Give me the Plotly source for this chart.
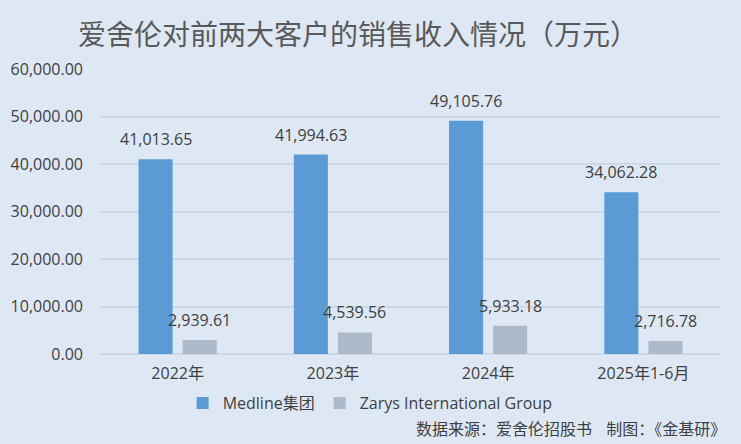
import plotly.graph_objects as go

# 数据（万元）
periods = ['2022年', '2023年', '2024年', '2025年1-6月']
medline = [41013.65, 41994.63, 49105.76, 34062.28]
zarys = [2939.61, 4539.56, 5933.18, 2716.78]
series_names = ['Medline集团', 'Zarys International Group']

TITLE = '爱舍伦对前两大客户的销售收入情况（万元）'
SOURCE = '数据来源：爱舍伦招股书\u00a0\u00a0\u00a0\u00a0制图：《金基研》'

BG = '#DEE8F4'
GRID = '#CCD8E6'
BLUE = '#5B9BD5'
GREY = '#ADB9CA'
TEXT = '#404040'
FONT = 'Open Sans, Noto Sans CJK SC, sans-serif'

fig = go.Figure()
fig.add_trace(go.Bar(x=periods, y=medline, name=series_names[0],
                     marker=dict(color=BLUE, line=dict(width=0))))
fig.add_trace(go.Bar(x=periods, y=zarys, name=series_names[1],
                     marker=dict(color=GREY, line=dict(width=0))))

# value labels above each bar
for vals, shift in ((medline, -22), (zarys, 22)):
    for p, v in zip(periods, vals):
        fig.add_annotation(x=p, y=v, text=f'{v:,.2f}', showarrow=False,
                           xshift=shift, yshift=20, yanchor='middle',
                           font=dict(size=16, color=TEXT, family=FONT))

fig.add_annotation(text=SOURCE, xref='paper', yref='paper', x=1.012, y=-0.258,
                   xanchor='right', yanchor='middle', showarrow=False,
                   font=dict(size=16, color=TEXT, family='Noto Sans CJK SC'))

fig.update_layout(
    width=741, height=444,
    paper_bgcolor=BG, plot_bgcolor=BG,
    margin=dict(l=100, r=20, t=69, b=90),
    font=dict(family=FONT, color=TEXT, size=16),
    title=dict(text=TITLE, x=0.483, xanchor='center', y=0.921, yanchor='middle',
               font=dict(size=28, color='#595959', family='Noto Sans CJK SC')),
    barmode='group', bargap=0.432, bargroupgap=0.227,
    showlegend=True,
    legend=dict(orientation='h', x=0.435, xanchor='center', y=-0.172, yanchor='middle',
                font=dict(size=16, color=TEXT), bgcolor='rgba(0,0,0,0)',
                itemwidth=30, traceorder='normal'),
    xaxis=dict(showgrid=False, showline=False, ticks='', ticklabelstandoff=8,
               tickfont=dict(size=16, color=TEXT)),
    yaxis=dict(range=[0, 60000], dtick=10000, tickformat=',.2f',
               showgrid=True, gridcolor=GRID, gridwidth=1.5, zeroline=True,
               zerolinecolor=GRID, zerolinewidth=1.5, ticks='',
               ticklabelstandoff=16, tickfont=dict(size=16, color=TEXT)),
)

# drop the page's default body margin so the chart starts at the window corner
fig.write_html('out.html', config={'displayModeBar': False},
               post_script="document.body.style.margin='0';")
